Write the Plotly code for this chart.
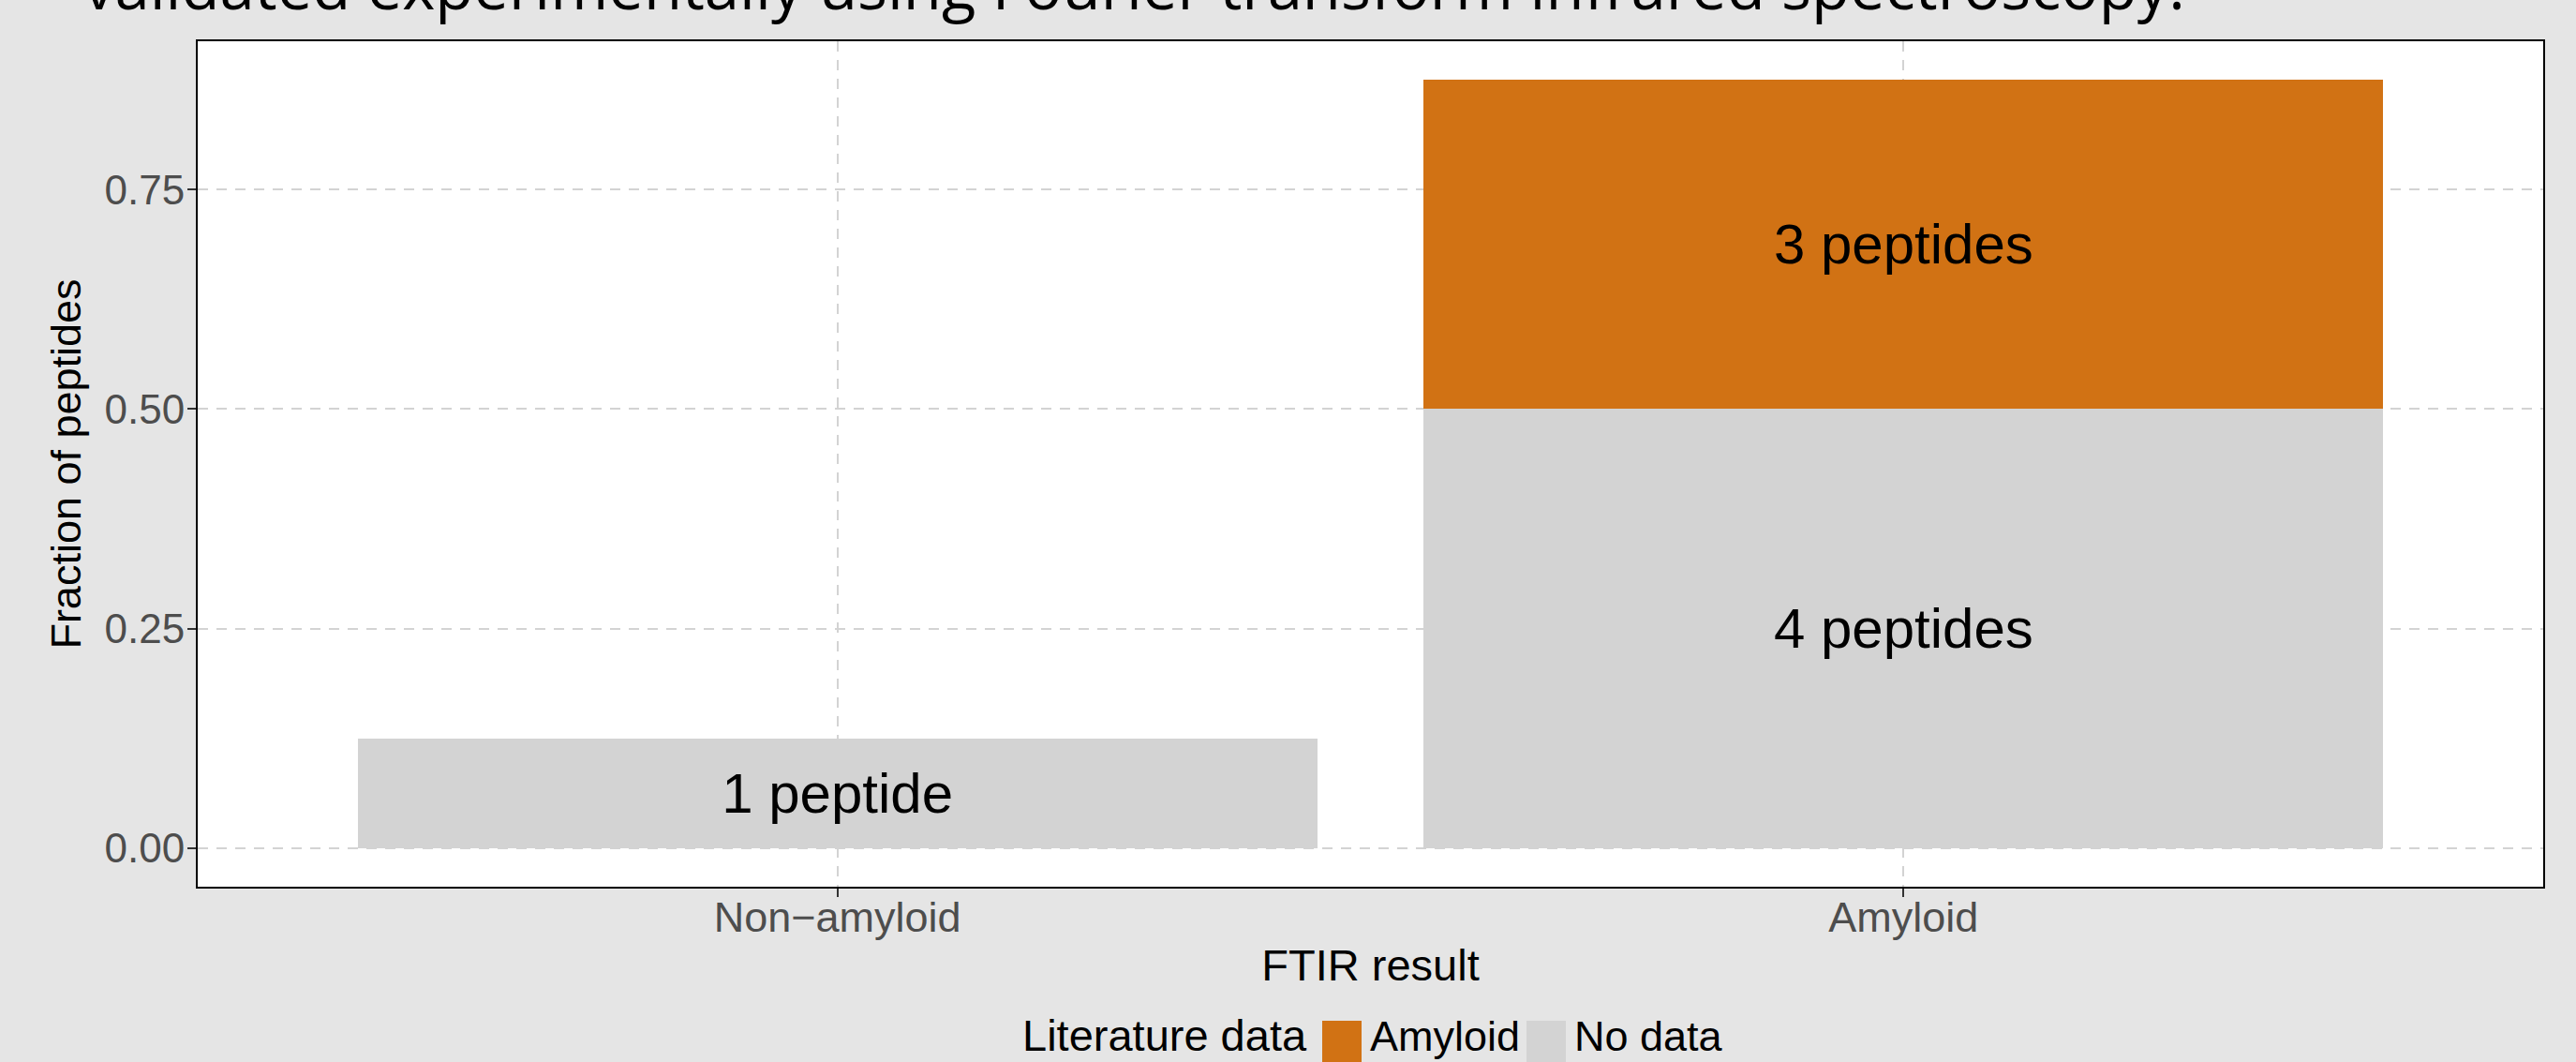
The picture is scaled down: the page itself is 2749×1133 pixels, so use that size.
import plotly.graph_objects as go

# ---- data ----
categories = ["Non\u2212amyloid", "Amyloid"]
series_names = ["No data", "Amyloid"]          # stacking order bottom -> top
no_data_frac = [0.125, 0.5]
amyloid_frac = [0.0, 0.375]
no_data_labels = ["1 peptide", "4 peptides"]
amyloid_labels = ["", "3 peptides"]
series_colors = {"Amyloid": "#D17214", "No data": "#D3D3D3"}
y_ticks = [0.0, 0.25, 0.5, 0.75]
y_ticklabels = ["0.00", "0.25", "0.50", "0.75"]

W, H = 2749, 1133
L, R, T, B = 211, 35, 44, 187
pw, ph = W - L - R, H - T - B

def px2x(px):
    return (px - L) / pw

def py2y(py):
    return (H - B - py) / ph

FONT = "Liberation Sans, Arial, sans-serif"

fig = go.Figure()
fig.add_trace(go.Bar(
    x=categories, y=no_data_frac, name="No data",
    marker=dict(color=series_colors["No data"], line=dict(width=0)),
    width=0.9, text=no_data_labels, textposition="inside",
    insidetextanchor="middle", textangle=0,
    insidetextfont=dict(family=FONT, size=60, color="black"),
    showlegend=False,
))
fig.add_trace(go.Bar(
    x=categories, y=amyloid_frac, name="Amyloid",
    marker=dict(color=series_colors["Amyloid"], line=dict(width=0)),
    width=0.9, text=amyloid_labels, textposition="inside",
    insidetextanchor="middle", textangle=0,
    insidetextfont=dict(family=FONT, size=60, color="black"),
    showlegend=False,
))

grid = dict(showgrid=True, gridcolor="#D3D3D3", gridwidth=2, griddash="11px,9px")

fig.update_layout(
    width=W, height=H, autosize=False,
    margin=dict(l=L, r=R, t=T, b=B, pad=0),
    barmode="stack", bargap=0.1,
    paper_bgcolor="#E5E5E5", plot_bgcolor="white",
    font=dict(family=FONT, color="black"),
    xaxis=dict(
        range=[-0.6, 1.6], zeroline=False,
        showline=True, linecolor="black", linewidth=2, mirror=True,
        ticks="outside", ticklen=9, tickwidth=2, tickcolor="#333333",
        tickfont=dict(family=FONT, size=45, color="#4D4D4D"),
        ticklabelstandoff=-17,
        title=dict(text="FTIR result", font=dict(family=FONT, size=47, color="black"), standoff=10),
        automargin=False, **grid,
    ),
    yaxis=dict(
        range=[-0.04375, 0.91875], zeroline=False,
        tickvals=y_ticks, ticktext=y_ticklabels,
        showline=True, linecolor="black", linewidth=2, mirror=True,
        ticks="outside", ticklen=9, tickwidth=2, tickcolor="#333333",
        tickfont=dict(family=FONT, size=44, color="#4D4D4D"),
        ticklabelstandoff=-6,
        title=dict(text="Fraction of peptides", font=dict(family=FONT, size=45, color="black"), standoff=11),
        automargin=False, **grid,
    ),
    showlegend=False,
)

# title (cut off at top in the reference)
fig.add_annotation(
    text="validated experimentally using Fourier transform infrared spectroscopy.",
    xref="paper", yref="paper", x=px2x(87), y=py2y(12), xanchor="left", yanchor="bottom",
    yshift=-20, showarrow=False,
    font=dict(family="Open Sans", size=67, color="black"),
)

# legend (built from series names / colours)
fig.add_annotation(text="Literature data", xref="paper", yref="paper",
                   x=px2x(1089), y=py2y(1133), xanchor="left", yanchor="bottom",
                   showarrow=False, font=dict(family=FONT, size=47, color="black"))
legend_items = ["Amyloid", "No data"]
key_left = [1411, 1629]
for name, kx in zip(legend_items, key_left):
    fig.add_shape(type="rect", xref="paper", yref="paper",
                  x0=px2x(kx), x1=px2x(kx + 42), y0=py2y(1133), y1=py2y(1089),
                  fillcolor=series_colors[name], line=dict(width=0), layer="above")
    fig.add_annotation(text=name, xref="paper", yref="paper",
                       x=px2x(kx + 49), y=py2y(1133), xanchor="left", yanchor="bottom",
                       showarrow=False, font=dict(family=FONT, size=45, color="black"))

fig.write_html("out.html", config={"displayModeBar": False},
               post_script="document.body.style.margin='0px';document.body.style.overflow='hidden';")
